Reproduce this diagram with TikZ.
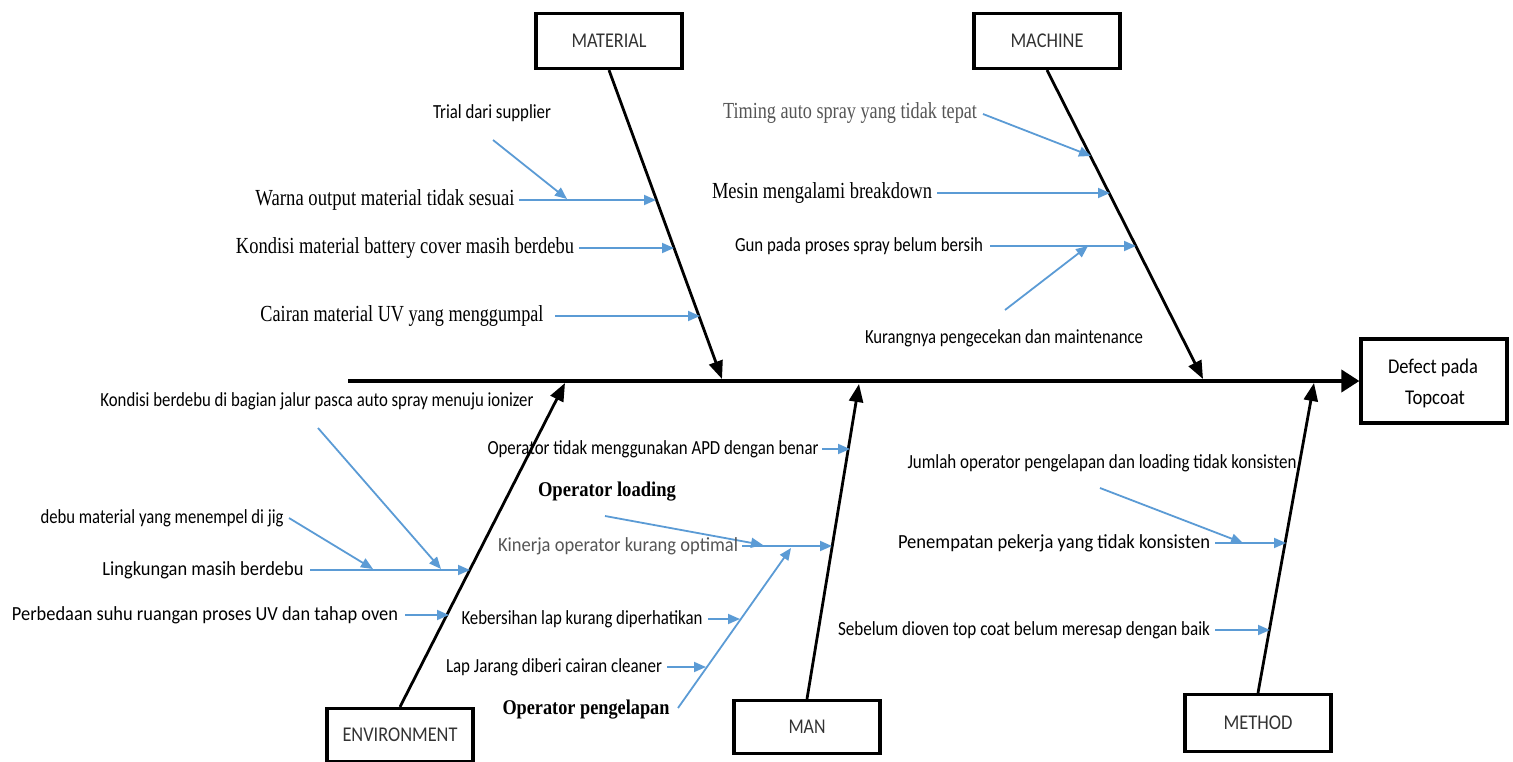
\documentclass[tikz,border=0pt]{standalone}
\usepackage{fontspec}
\setmainfont{Liberation Serif}
\newfontfamily\calfont{Carlito}
\usetikzlibrary{arrows.meta}
\definecolor{cblue}{RGB}{91,155,213}
\definecolor{txtgrey}{RGB}{85,85,85}
\newcommand{\fw}[2]{\resizebox{#1pt}{\height}{#2}}
\begin{document}
\begin{tikzpicture}[x=1pt,y=-1pt,
  bone/.style={line width=2.8pt,-{Triangle[length=18pt,width=14pt]}},
  spine/.style={line width=3.8pt,-{Triangle[length=18pt,width=22pt]}},
  barrow/.style={cblue,line width=1.8pt,-{Triangle[length=12pt,width=10pt]}},
  catbox/.style={draw,line width=3.2pt,minimum width=146pt,minimum height=55pt,inner sep=0,font=\calfont\fontsize{21}{24}\selectfont,text=black!80},
  sl/.style={inner sep=0,anchor=mid,yshift=-3pt,font=\calfont\fontsize{20}{22}\selectfont},
  rl/.style={inner sep=0,anchor=mid,yshift=-3pt,font=\fontsize{23}{26}\selectfont},
]
\useasboundingbox (0,0) rectangle (1513,762);

% category boxes
\node[catbox] (mat) at (609,41) {\fw{75}{MATERIAL}};
\node[catbox] (mac) at (1047,41) {\fw{73}{MACHINE}};
\node[catbox,minimum height=53pt] (env) at (400,735) {\fw{115}{ENVIRONMENT}};
\node[catbox,minimum height=53pt] (man) at (807,727) {\fw{37}{MAN}};
\node[catbox,minimum height=57pt] (met) at (1258,723) {\fw{69}{METHOD}};
\node[draw,line width=3.2pt,minimum width=146pt,minimum height=84pt,inner sep=0] (eff) at (1434,381) {};
\node[sl,font=\calfont\fontsize{21}{24}\selectfont] (eff1) at (1433,368) {\fw{90}{Defect pada}};
\node[sl,font=\calfont\fontsize{21}{24}\selectfont] (eff2) at (1435,399) {\fw{60}{Topcoat}};

% spine and bones
\coordinate (sp0) at (348,381);
\draw[spine] (sp0) -- (eff.west);
\coordinate (matE) at (722,379);
\coordinate (macE) at (1203,379);
\coordinate (envE) at (565,383);
\coordinate (manE) at (859,384);
\coordinate (metE) at (1314,383);
\draw[bone] (mat.south) -- (matE);
\draw[bone] (mac.south) -- (macE);
\draw[bone] (env.north) -- (envE);
\draw[bone] (man.north) -- (manE);
\draw[bone] (met.north) -- (metE);

% MATERIAL causes
\node[sl] (trial) at (492,113) {\fw{118}{Trial dari supplier}};
\coordinate (trialS) at (493,140); \coordinate (trialE) at (567,199);
\draw[barrow] (trialS) -- (trialE);
\node[rl] (warna) at (385,200) {\fw{259}{Warna output material tidak sesuai}};
\coordinate (warnaE) at (656,200);
\draw[barrow] (519,200) -- (warnaE);
\node[rl] (kmat) at (405,248) {\fw{338}{Kondisi material battery cover masih berdebu}};
\coordinate (kmatE) at (674,248);
\draw[barrow] (579,248) -- (kmatE);
\node[rl] (cair) at (402,316) {\fw{283}{Cairan material UV yang menggumpal}};
\coordinate (cairE) at (700,316);
\draw[barrow] (555,316) -- (cairE);

% MACHINE causes
\node[rl,text=txtgrey] (timing) at (850,113) {\fw{254}{Timing auto spray yang tidak tepat}};
\coordinate (timingS) at (983,114); \coordinate (timingE) at (1091,156);
\draw[barrow] (timingS) -- (timingE);
\node[rl] (mesin) at (822,193) {\fw{220}{Mesin mengalami breakdown}};
\coordinate (mesinE) at (1110,193);
\draw[barrow] (937,193) -- (mesinE);
\node[sl] (gun) at (859,246) {\fw{248}{Gun pada proses spray belum bersih}};
\coordinate (gunE) at (1136,246);
\draw[barrow] (990,246) -- (gunE);
\node[sl] (kurang) at (1004,338) {\fw{278}{Kurangnya pengecekan dan maintenance}};
\coordinate (kurangS) at (1005,310); \coordinate (kurangE) at (1088,246);
\draw[barrow] (kurangS) -- (kurangE);

% ENVIRONMENT causes
\node[sl] (kber) at (317,401) {\fw{433}{Kondisi berdebu di bagian jalur pasca auto spray menuju ionizer}};
\coordinate (kberS) at (318,428); \coordinate (kberE) at (441,569);
\draw[barrow] (kberS) -- (kberE);
\node[sl] (debu) at (162,518) {\fw{243}{debu material yang menempel di jig}};
\coordinate (debuE) at (373,569);
\draw[barrow] (289,518) -- (debuE);
\node[sl] (ling) at (203,570) {\fw{201}{Lingkungan masih berdebu}};
\coordinate (lingE) at (470,570);
\draw[barrow] (310,570) -- (lingE);
\node[sl] (perb) at (205,615) {\fw{386}{Perbedaan suhu ruangan proses UV dan tahap oven}};
\coordinate (perbE) at (449,615);
\draw[barrow] (405,615) -- (perbE);

% MAN causes
\node[sl] (apd) at (653,449) {\fw{331}{Operator tidak menggunakan APD dengan benar}};
\coordinate (apdE) at (850,449);
\draw[barrow] (822,449) -- (apdE);
\node[rl,font=\bfseries\fontsize{21}{24}\selectfont] (oload) at (607,491) {\fw{138}{Operator loading}};
\coordinate (oloadS) at (605,516); \coordinate (oloadE) at (763,545);
\draw[barrow] (oloadS) -- (oloadE);
\node[sl,text=txtgrey] (kin) at (618,546) {\fw{240}{Kinerja operator kurang optimal}};
\coordinate (kinE) at (832,546);
\draw[barrow] (742,546) -- (kinE);
\node[sl] (keb) at (582,619) {\fw{241}{Kebersihan lap kurang diperhatikan}};
\coordinate (kebE) at (740,619);
\draw[barrow] (708,619) -- (kebE);
\node[sl] (lapj) at (554,667) {\fw{216}{Lap Jarang diberi cairan cleaner}};
\coordinate (lapjE) at (706,667);
\draw[barrow] (667,667) -- (lapjE);
\node[rl,font=\bfseries\fontsize{21}{24}\selectfont] (openg) at (586,709) {\fw{167}{Operator pengelapan}};
\coordinate (opengS) at (678,708); \coordinate (opengE) at (791,548);
\draw[barrow] (opengS) -- (opengE);

% METHOD causes
\node[sl] (jml) at (1102,463) {\fw{389}{Jumlah operator pengelapan dan loading tidak konsisten}};
\coordinate (jmlS) at (1100,488); \coordinate (jmlE) at (1243,543);
\draw[barrow] (jmlS) -- (jmlE);
\node[sl] (pen) at (1054,543) {\fw{312}{Penempatan pekerja yang tidak konsisten}};
\coordinate (penE) at (1286,543);
\draw[barrow] (1215,543) -- (penE);
\node[sl] (seb) at (1024,630) {\fw{372}{Sebelum dioven top coat belum meresap dengan baik}};
\coordinate (sebE) at (1270,630);
\draw[barrow] (1215,630) -- (sebE);
\end{tikzpicture}
\end{document}
